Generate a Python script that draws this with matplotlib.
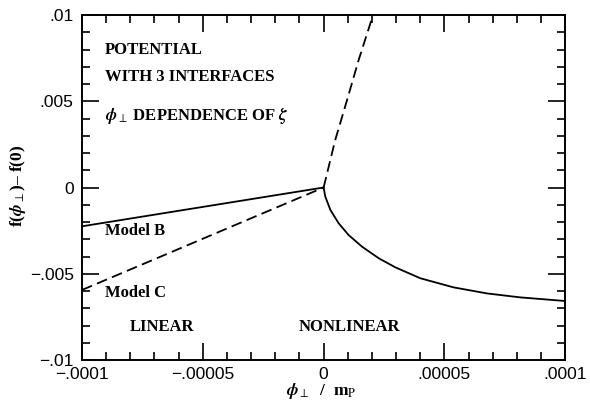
import matplotlib
matplotlib.use("Agg")
import matplotlib.pyplot as plt
from matplotlib.ticker import FixedLocator, MultipleLocator

plt.rcParams["mathtext.fontset"] = "stix"

# Left branch (linear regime), units of phi/m_P and f
model_b_x = [-1.0e-4, 0.0]
model_b_y = [-2.25e-3, 0.0]
model_c_x = [-1.0e-4, 0.0]
model_c_y = [-5.94e-3, 0.0]

# Right branch (nonlinear regime)
nonlin_solid_x = [0.0, 0.07e-5, 0.28e-5, 0.62e-5, 1.03e-5, 1.59e-5, 2.28e-5,
                  2.97e-5, 4.0e-5, 5.38e-5, 6.76e-5, 8.14e-5, 1.0e-4]
nonlin_solid_y = [0.0, -0.53e-3, -1.30e-3, -2.07e-3, -2.75e-3, -3.43e-3,
                  -4.10e-3, -4.63e-3, -5.26e-3, -5.79e-3, -6.14e-3, -6.37e-3,
                  -6.58e-3]
nonlin_dash_x = [0.0, 0.48e-5, 0.97e-5, 1.45e-5, 2.0e-5, 2.1e-5]
nonlin_dash_y = [0.0, 2.75e-3, 5.07e-3, 7.39e-3, 9.80e-3, 1.02e-2]

xtick_vals = [-1e-4, -5e-5, 0.0, 5e-5, 1e-4]
xtick_labels = ["\u2212.0001", "\u2212.00005", "0", ".00005", ".0001"]
ytick_vals = [-0.01, -0.005, 0.0, 0.005, 0.01]
ytick_labels = ["\u2212.01", "\u2212.005", "0", ".005", ".01"]

serif = "Liberation Serif"
sans = "Liberation Sans"

fig = plt.figure(figsize=(5.9, 4.0), dpi=100)
ax = fig.add_axes([0.139, 0.10, 0.819, 0.8625])

lw = 1.3
dash = (0, (6, 3))
ax.plot(model_b_x, model_b_y, color="black", lw=lw)
ax.plot(model_c_x, model_c_y, color="black", lw=lw, ls=dash)
ax.plot(nonlin_solid_x, nonlin_solid_y, color="black", lw=lw)
ax.plot(nonlin_dash_x, nonlin_dash_y, color="black", lw=lw, ls=dash)

ax.set_xlim(-1e-4, 1e-4)
ax.set_ylim(-0.01, 0.01)

ax.xaxis.set_major_locator(FixedLocator(xtick_vals))
ax.yaxis.set_major_locator(FixedLocator(ytick_vals))
ax.set_xticklabels(xtick_labels, fontfamily=sans, fontsize=12.5)
ax.set_yticklabels(ytick_labels, fontfamily=sans, fontsize=12.5)
ax.xaxis.set_minor_locator(MultipleLocator(1e-5))
ax.yaxis.set_minor_locator(MultipleLocator(1e-3))

ax.tick_params(which="both", direction="in", top=True, right=True,
               width=1.2, color="black")
ax.tick_params(which="major", length=12)
ax.tick_params(axis="x", which="major", pad=5)
ax.tick_params(axis="y", which="major", pad=6)
ax.tick_params(which="minor", length=6)
for s in ax.spines.values():
    s.set_linewidth(1.4)

tkw = dict(transform=ax.transAxes, fontfamily=serif, fontsize=12,
           fontweight="bold", va="baseline", ha="left")
ax.text(0.0476, 0.887, "POTENTIAL", **tkw)
ax.text(0.0476, 0.810, "WITH 3 INTERFACES", **tkw)
ax.text(0.0476, 0.696, r"$\boldsymbol{\phi}_\perp$ DEPENDENCE OF $\boldsymbol{\zeta}$", **tkw)
ax.text(0.0476, 0.362, "Model B", **tkw)
ax.text(0.0476, 0.183, "Model C", **tkw)
ax.text(0.099, 0.084, "LINEAR", **tkw)
ax.text(0.449, 0.085, "NONLINEAR", **tkw)

fig.text(0.03, 0.535, "f(" + r"$\boldsymbol{\phi}_\perp$" + ")\u2013 f(0)",
         rotation=90, fontfamily=serif, fontsize=12.5, fontweight="bold",
         ha="center", va="center")
fig.text(0.545, 0.012, r"$\boldsymbol{\phi}_\perp$  /  m$_{\mathrm{P}}$",
         fontfamily=serif, fontsize=12.5, fontweight="bold",
         ha="center", va="baseline")

fig.savefig("out.png", dpi=100)
